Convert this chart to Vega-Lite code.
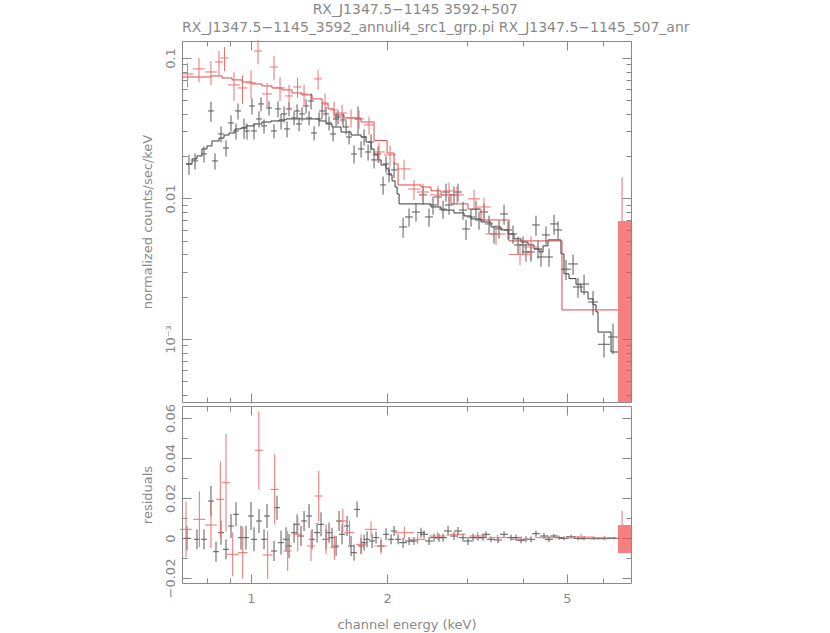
{
  "$schema": "https://vega.github.io/schema/vega-lite/v6.json",
  "padding": {"left": 140, "top": 2, "right": 5, "bottom": 5},
  "background": "white",
  "title": {"text": "RX_J1347.5−1145 3592+507", "anchor": "middle", "fontSize": 14, "fontWeight": "normal", "color": "#888", "font": "DejaVu Sans", "offset": 4},
  "datasets": {
    "blackModel": [
      {"x":0.718,"y":0.01762},{"x":0.7406,"y":0.01912},{"x":0.7594,"y":0.02008},{"x":0.779,"y":0.02252},{"x":0.7991,"y":0.02365},{"x":0.8196,"y":0.02567},{"x":0.8495,"y":0.02694},{"x":0.8715,"y":0.02829},{"x":0.894,"y":0.02925},{"x":0.9217,"y":0.03126},{"x":0.9503,"y":0.03177},{"x":0.9748,"y":0.03283},{"x":1.0155,"y":0.03393},{"x":1.0576,"y":0.03503},{"x":1.1073,"y":0.03563},{"x":1.1535,"y":0.03623},{"x":1.1953,"y":0.03683},{"x":1.4143,"y":0.03563},{"x":1.4655,"y":0.03393},{"x":1.5111,"y":0.03228},{"x":1.5818,"y":0.02973},{"x":1.6645,"y":0.02829},{"x":1.7518,"y":0.0274},{"x":1.7969,"y":0.02524},{"x":1.8433,"y":0.02252},{"x":1.8717,"y":0.02041},{"x":1.9101,"y":0.01881},{"x":1.9395,"y":0.01733},{"x":1.9897,"y":0.01623},{"x":2.0202,"y":0.01471},{"x":2.0513,"y":0.01334},{"x":2.083,"y":0.01207},{"x":2.1045,"y":0.01077},{"x":2.126,"y":0.00915},{"x":2.5016,"y":0.0087},{"x":2.6327,"y":0.00827},{"x":2.8126,"y":0.00789},{"x":2.9598,"y":0.00751},{"x":3.0668,"y":0.00715},{"x":3.2272,"y":0.0068},{"x":3.3963,"y":0.00627},{"x":3.5735,"y":0.00597},{"x":3.7036,"y":0.00559},{"x":3.8182,"y":0.00516},{"x":3.9562,"y":0.0049},{"x":4.1004,"y":0.00467},{"x":4.2276,"y":0.00437},{"x":4.3368,"y":0.00416},{"x":4.4263,"y":0.0046},{"x":4.5403,"y":0.00507},{"x":4.8503,"y":0.00403},{"x":4.9248,"y":0.00291},{"x":5.0531,"y":0.00269},{"x":5.236,"y":0.00245},{"x":5.3716,"y":0.00216},{"x":5.5667,"y":0.00193},{"x":5.7105,"y":0.00175},{"x":5.7982,"y":0.00156},{"x":5.8573,"y":0.00112},{"x":6.2588,"y":0.000808},{"x":6.4848,"y":0.000808}
    ],
    "redModel": [
      {"x":0.7036,"y":0.07324},{"x":0.8155,"y":0.07451},{"x":0.8627,"y":0.07209},{"x":0.9077,"y":0.0698},{"x":0.9552,"y":0.06749},{"x":1.0051,"y":0.06536},{"x":1.0576,"y":0.06323},{"x":1.1129,"y":0.06119},{"x":1.1712,"y":0.05923},{"x":1.2326,"y":0.05638},{"x":1.2969,"y":0.05458},{"x":1.3649,"y":0.05112},{"x":1.436,"y":0.04709},{"x":1.4806,"y":0.04339},{"x":1.5266,"y":0.03934},{"x":1.6063,"y":0.03743},{"x":1.7518,"y":0.03503},{"x":1.8717,"y":0.02588},{"x":2.0,"y":0.02107},{"x":2.0725,"y":0.01762},{"x":2.1152,"y":0.01248},{"x":2.3773,"y":0.01207},{"x":2.5016,"y":0.01133},{"x":2.6327,"y":0.0106},{"x":2.7701,"y":0.00915},{"x":3.0206,"y":0.0084},{"x":3.2272,"y":0.00703},{"x":3.7224,"y":0.00499},{"x":4.8746,"y":0.00161},{"x":6.4848,"y":0.00161}
    ],
    "black": [
      {"x":0.729,"xe":0.0112,"y":0.0176,"ye":0.0029},{"x":0.752,"xe":0.0115,"y":0.0185,"ye":0.00243},{"x":0.787,"xe":0.012,"y":0.02075,"ye":0.00272},{"x":0.8155,"xe":0.0125,"y":0.04198,"ye":0.00688},{"x":0.8324,"xe":0.0127,"y":0.0185,"ye":0.00243},{"x":0.8582,"xe":0.0131,"y":0.0288,"ye":0.00378},{"x":0.8804,"xe":0.0135,"y":0.02289,"ye":0.003},{"x":0.9031,"xe":0.0138,"y":0.03448,"ye":0.00452},{"x":0.9264,"xe":0.0142,"y":0.03024,"ye":0.00396},{"x":0.9359,"xe":0.0143,"y":0.04198,"ye":0.0055},{"x":0.965,"xe":0.0148,"y":0.03177,"ye":0.00521},{"x":0.9797,"xe":0.015,"y":0.03024,"ye":0.00396},{"x":1.005,"xe":0.0154,"y":0.04556,"ye":0.00597},{"x":1.0155,"xe":0.0155,"y":0.03024,"ye":0.00396},{"x":1.0416,"xe":0.0159,"y":0.03683,"ye":0.00483},{"x":1.0522,"xe":0.0161,"y":0.04709,"ye":0.0054},{"x":1.0685,"xe":0.0163,"y":0.03283,"ye":0.00377},{"x":1.0961,"xe":0.0168,"y":0.04409,"ye":0.00506},{"x":1.1243,"xe":0.0172,"y":0.03024,"ye":0.00347},{"x":1.1475,"xe":0.0176,"y":0.04339,"ye":0.00569},{"x":1.1653,"xe":0.0178,"y":0.03563,"ye":0.00467},{"x":1.1833,"xe":0.0181,"y":0.03997,"ye":0.00524},{"x":1.2015,"xe":0.0184,"y":0.03126,"ye":0.0041},{"x":1.2139,"xe":0.0186,"y":0.04339,"ye":0.00498},{"x":1.2452,"xe":0.0191,"y":0.03743,"ye":0.00429},{"x":1.2644,"xe":0.0193,"y":0.04198,"ye":0.00482},{"x":1.2773,"xe":0.0195,"y":0.03393,"ye":0.00389},{"x":1.2969,"xe":0.0198,"y":0.03997,"ye":0.00458},{"x":1.3236,"xe":0.0203,"y":0.04556,"ye":0.00523},{"x":1.344,"xe":0.0206,"y":0.03743,"ye":0.00429},{"x":1.3578,"xe":0.0208,"y":0.04945,"ye":0.00648},{"x":1.3789,"xe":0.0211,"y":0.02926,"ye":0.00336},{"x":1.4143,"xe":0.0216,"y":0.03683,"ye":0.00422},{"x":1.436,"xe":0.022,"y":0.04198,"ye":0.00482},{"x":1.4655,"xe":0.0224,"y":0.03997,"ye":0.00458},{"x":1.488,"xe":0.0228,"y":0.03448,"ye":0.00396},{"x":1.5189,"xe":0.0232,"y":0.0288,"ye":0.0033},{"x":1.5423,"xe":0.0236,"y":0.03683,"ye":0.00422},{"x":1.558,"xe":0.0238,"y":0.03803,"ye":0.00436},{"x":1.5982,"xe":0.0245,"y":0.03623,"ye":0.00416},{"x":1.6228,"xe":0.0248,"y":0.03228,"ye":0.0037},{"x":1.6478,"xe":0.0252,"y":0.0274,"ye":0.00314},{"x":1.6903,"xe":0.0259,"y":0.02075,"ye":0.00306},{"x":1.725,"xe":0.0264,"y":0.03683,"ye":0.00845},{"x":1.7518,"xe":0.0268,"y":0.02253,"ye":0.00295},{"x":1.7789,"xe":0.0272,"y":0.0274,"ye":0.00359},{"x":1.8155,"xe":0.0278,"y":0.02143,"ye":0.00281},{"x":1.8433,"xe":0.0282,"y":0.02524,"ye":0.00331},{"x":1.8717,"xe":0.0286,"y":0.01881,"ye":0.00247},{"x":1.9101,"xe":0.0292,"y":0.02075,"ye":0.00272},{"x":1.9596,"xe":0.03,"y":0.01248,"ye":0.00184},{"x":1.9897,"xe":0.0304,"y":0.01762,"ye":0.00231},{"x":2.0202,"xe":0.0309,"y":0.01495,"ye":0.00196},{"x":2.0725,"xe":0.0317,"y":0.01597,"ye":0.00209},{"x":2.1698,"xe":0.0443,"y":0.00627,"ye":0.00103},{"x":2.2368,"xe":0.0456,"y":0.007385,"ye":0.00109},{"x":2.3174,"xe":0.0473,"y":0.008015,"ye":0.00118},{"x":2.4019,"xe":0.049,"y":0.0106,"ye":0.00156},{"x":2.4765,"xe":0.0505,"y":0.007385,"ye":0.00109},{"x":2.5274,"xe":0.0516,"y":0.008997,"ye":0.00133},{"x":2.5927,"xe":0.0529,"y":0.01025,"ye":0.00151},{"x":2.6597,"xe":0.0543,"y":0.0084,"ye":0.00124},{"x":2.7003,"xe":0.0551,"y":0.01112,"ye":0.00164},{"x":2.7422,"xe":0.0559,"y":0.009,"ye":0.00133},{"x":2.8126,"xe":0.0574,"y":0.0106,"ye":0.00156},{"x":2.8704,"xe":0.0586,"y":0.01112,"ye":0.00164},{"x":2.9448,"xe":0.0601,"y":0.00827,"ye":0.00122},{"x":2.99,"xe":0.061,"y":0.00607,"ye":0.000995},{"x":3.0668,"xe":0.0626,"y":0.007385,"ye":0.00109},{"x":3.1462,"xe":0.0642,"y":0.0084,"ye":0.00124},{"x":3.1948,"xe":0.0652,"y":0.00703,"ye":0.00104},{"x":3.2773,"xe":0.0669,"y":0.008015,"ye":0.00118},{"x":3.3621,"xe":0.0686,"y":0.00659,"ye":0.00097},{"x":3.4486,"xe":0.0704,"y":0.00559,"ye":0.000825},{"x":3.5375,"xe":0.0722,"y":0.00607,"ye":0.000895},{"x":3.629,"xe":0.074,"y":0.00776,"ye":0.00127},{"x":3.7036,"xe":0.0756,"y":0.00597,"ye":0.00088},{"x":3.7987,"xe":0.0775,"y":0.00559,"ye":0.000825},{"x":3.8969,"xe":0.0795,"y":0.00467,"ye":0.000689},{"x":3.997,"xe":0.0815,"y":0.00467,"ye":0.000689},{"x":4.0585,"xe":0.0828,"y":0.004161,"ye":0.000614},{"x":4.1635,"xe":0.0849,"y":0.004161,"ye":0.000614},{"x":4.2704,"xe":0.0871,"y":0.00648,"ye":0.00106},{"x":4.3146,"xe":0.088,"y":0.00437,"ye":0.000645},{"x":4.3809,"xe":0.0894,"y":0.003834,"ye":0.000566},{"x":4.4943,"xe":0.0917,"y":0.0055,"ye":0.000811},{"x":4.5634,"xe":0.0931,"y":0.003834,"ye":0.000566},{"x":4.6812,"xe":0.0955,"y":0.00659,"ye":0.00108},{"x":4.7789,"xe":0.0975,"y":0.00597,"ye":0.00088},{"x":4.9758,"xe":0.1269,"y":0.00314,"ye":0.000515},{"x":5.1574,"xe":0.1315,"y":0.00342,"ye":0.00056},{"x":5.2902,"xe":0.1349,"y":0.002345,"ye":0.000384},{"x":5.4551,"xe":0.1391,"y":0.00246,"ye":0.000403},{"x":5.7105,"xe":0.1456,"y":0.001833,"ye":0.000361},{"x":6.0392,"xe":0.1854,"y":0.000917,"ye":0.00018},{"x":6.3227,"xe":0.1612,"y":0.001033,"ye":0.000254}
    ],
    "red": [
      {"x":0.7236,"xe":0.0222,"y":0.077,"ye":0.01515},{"x":0.7672,"xe":0.0236,"y":0.0836,"ye":0.01644},{"x":0.8155,"xe":0.025,"y":0.07951,"ye":0.01564},{"x":0.8495,"xe":0.0173,"y":0.09365,"ye":0.01842},{"x":0.8737,"xe":0.0178,"y":0.1,"ye":0.01967},{"x":0.917,"xe":0.0282,"y":0.0643,"ye":0.01476},{"x":0.9576,"xe":0.0244,"y":0.06119,"ye":0.01404},{"x":1.0,"xe":0.0255,"y":0.06643,"ye":0.01525},{"x":1.0363,"xe":0.0211,"y":0.1122,"ye":0.0221},{"x":1.085,"xe":0.0277,"y":0.05548,"ye":0.01091},{"x":1.1243,"xe":0.0229,"y":0.08627,"ye":0.01697},{"x":1.1594,"xe":0.0296,"y":0.06119,"ye":0.01204},{"x":1.2139,"xe":0.0248,"y":0.05368,"ye":0.01056},{"x":1.2676,"xe":0.0259,"y":0.06217,"ye":0.01019},{"x":1.3102,"xe":0.0267,"y":0.05548,"ye":0.00909},{"x":1.4072,"xe":0.0287,"y":0.07094,"ye":0.01163},{"x":1.4581,"xe":0.0298,"y":0.04786,"ye":0.00784},{"x":1.5266,"xe":0.0311,"y":0.04268,"ye":0.0063},{"x":1.59,"xe":0.0405,"y":0.04062,"ye":0.00599},{"x":1.6645,"xe":0.0424,"y":0.03743,"ye":0.00552},{"x":1.7341,"xe":0.0442,"y":0.03683,"ye":0.00543},{"x":1.8246,"xe":0.0465,"y":0.03338,"ye":0.00492},{"x":1.9197,"xe":0.0589,"y":0.02143,"ye":0.00351},{"x":2.0305,"xe":0.0623,"y":0.02041,"ye":0.00335},{"x":2.1807,"xe":0.0781,"y":0.01623,"ye":0.00266},{"x":2.294,"xe":0.0704,"y":0.01167,"ye":0.00191},{"x":2.4019,"xe":0.0737,"y":0.01112,"ye":0.00164},{"x":2.5927,"xe":0.1061,"y":0.0106,"ye":0.00156},{"x":2.7422,"xe":0.0842,"y":0.01131,"ye":0.00167},{"x":2.8557,"xe":0.1023,"y":0.0106,"ye":0.00156},{"x":3.1144,"xe":0.0956,"y":0.00994,"ye":0.00163},{"x":3.2773,"xe":0.1174,"y":0.0087,"ye":0.00143},{"x":3.4834,"xe":0.1783,"y":0.00559,"ye":0.000916},{"x":3.9364,"xe":0.2216,"y":0.004,"ye":0.000656},{"x":4.1635,"xe":0.1705,"y":0.004517,"ye":0.000888}
    ],
    "redLast": [{"x":6.4848,"x2":6.9289,"ylo":0.0001,"yhi":0.0069,"xmid":6.62,"ytop":0.0142}],
    "blackRes": [
      {"x":0.7218,"xe":0.011,"r":-0.00015,"re":0.006},{"x":0.7594,"xe":0.0116,"r":-0.00065,"re":0.005},{"x":0.787,"xe":0.012,"r":-0.00065,"re":0.005},{"x":0.8155,"xe":0.0125,"r":0.0185,"re":0.0075},{"x":0.8366,"xe":0.0128,"r":-0.00685,"re":0.005},{"x":0.8582,"xe":0.0131,"r":0.00265,"re":0.006},{"x":0.8804,"xe":0.0135,"r":-0.00565,"re":0.005},{"x":0.9031,"xe":0.0138,"r":0.006,"re":0.006},{"x":0.9264,"xe":0.0142,"r":0.01185,"re":0.006},{"x":0.9503,"xe":0.0145,"r":0.00015,"re":0.006},{"x":0.9748,"xe":0.0149,"r":0.00015,"re":0.006},{"x":1.0,"xe":0.0153,"r":0.011,"re":0.007},{"x":1.0155,"xe":0.0155,"r":-0.00065,"re":0.006},{"x":1.0416,"xe":0.0159,"r":0.0085,"re":0.006},{"x":1.0685,"xe":0.0163,"r":-0.00065,"re":0.005},{"x":1.085,"xe":0.0166,"r":0.011,"re":0.006},{"x":1.1243,"xe":0.0172,"r":-0.0065,"re":0.005},{"x":1.1415,"xe":0.0175,"r":0.01515,"re":0.006},{"x":1.1653,"xe":0.0178,"r":-0.00235,"re":0.006},{"x":1.1953,"xe":0.0183,"r":-0.00065,"re":0.006},{"x":1.2139,"xe":0.0186,"r":-0.004,"re":0.006},{"x":1.2452,"xe":0.0191,"r":0.00265,"re":0.005},{"x":1.2644,"xe":0.0193,"r":0.00685,"re":0.005},{"x":1.2902,"xe":0.0197,"r":0.001,"re":0.005},{"x":1.3102,"xe":0.02,"r":0.0085,"re":0.005},{"x":1.344,"xe":0.0206,"r":0.011,"re":0.006},{"x":1.3649,"xe":0.0209,"r":-0.00065,"re":0.005},{"x":1.4,"xe":0.0214,"r":0.00265,"re":0.005},{"x":1.4287,"xe":0.0219,"r":0.00685,"re":0.006},{"x":1.4655,"xe":0.0224,"r":-0.00065,"re":0.005},{"x":1.488,"xe":0.0228,"r":0.00265,"re":0.005},{"x":1.5111,"xe":0.0231,"r":0.00015,"re":0.005},{"x":1.5423,"xe":0.0236,"r":-0.004,"re":0.005},{"x":1.566,"xe":0.024,"r":0.0085,"re":0.005},{"x":1.59,"xe":0.0243,"r":0.00185,"re":0.005},{"x":1.631,"xe":0.025,"r":0.006,"re":0.005},{"x":1.6645,"xe":0.0255,"r":-0.004,"re":0.005},{"x":1.6903,"xe":0.0259,"r":-0.00735,"re":0.004},{"x":1.7164,"xe":0.0263,"r":0.01435,"re":0.004},{"x":1.7518,"xe":0.0268,"r":-0.004,"re":0.004},{"x":1.7789,"xe":0.0272,"r":-0.00235,"re":0.004},{"x":1.806,"xe":0.0276,"r":-0.00065,"re":0.004},{"x":1.8528,"xe":0.0283,"r":-0.0015,"re":0.0035},{"x":1.8906,"xe":0.0289,"r":0.00015,"re":0.003},{"x":1.9395,"xe":0.0297,"r":-0.004,"re":0.003},{"x":1.9897,"xe":0.0304,"r":0.00185,"re":0.003},{"x":2.0408,"xe":0.0312,"r":-0.00065,"re":0.0025},{"x":2.0725,"xe":0.0317,"r":0.0035,"re":0.0025},{"x":2.1152,"xe":0.0324,"r":-0.00065,"re":0.0025},{"x":2.1698,"xe":0.0443,"r":-0.00235,"re":0.0025},{"x":2.2368,"xe":0.0456,"r":-0.0015,"re":0.002},{"x":2.294,"xe":0.0468,"r":-0.0015,"re":0.002},{"x":2.3773,"xe":0.0485,"r":0.00265,"re":0.0025},{"x":2.4142,"xe":0.0493,"r":0.00185,"re":0.002},{"x":2.4765,"xe":0.0505,"r":-0.0015,"re":0.002},{"x":2.5405,"xe":0.0518,"r":0.00015,"re":0.002},{"x":2.606,"xe":0.0532,"r":0.00015,"re":0.002},{"x":2.6597,"xe":0.0543,"r":0.00015,"re":0.002},{"x":2.7282,"xe":0.0557,"r":0.0035,"re":0.0025},{"x":2.8126,"xe":0.0574,"r":0.001,"re":0.002},{"x":2.8704,"xe":0.0586,"r":0.0035,"re":0.002},{"x":2.9448,"xe":0.0601,"r":0.00015,"re":0.002},{"x":3.0206,"xe":0.0616,"r":-0.0015,"re":0.002},{"x":3.0984,"xe":0.0632,"r":0.00015,"re":0.002},{"x":3.1783,"xe":0.0648,"r":0.00015,"re":0.0015},{"x":3.2606,"xe":0.0665,"r":0.00015,"re":0.0015},{"x":3.3107,"xe":0.0675,"r":0.00185,"re":0.0015},{"x":3.3963,"xe":0.0693,"r":-0.00065,"re":0.0015},{"x":3.5196,"xe":0.0718,"r":-0.001,"re":0.0015},{"x":3.629,"xe":0.074,"r":0.00185,"re":0.0015},{"x":3.76,"xe":0.0767,"r":0.00015,"re":0.0015},{"x":3.8573,"xe":0.0787,"r":0.00015,"re":0.0015},{"x":3.9562,"xe":0.0807,"r":-0.00115,"re":0.0015},{"x":4.0585,"xe":0.0828,"r":-0.00065,"re":0.0015},{"x":4.1635,"xe":0.0849,"r":-0.00065,"re":0.0015},{"x":4.2704,"xe":0.0871,"r":0.00215,"re":0.0015},{"x":4.4486,"xe":0.0908,"r":0.001,"re":0.0015},{"x":4.5634,"xe":0.0931,"r":-0.00065,"re":0.0015},{"x":4.6812,"xe":0.0955,"r":0.001,"re":0.001},{"x":4.8015,"xe":0.098,"r":0.00015,"re":0.001},{"x":4.9248,"xe":0.1256,"r":-0.00015,"re":0.001},{"x":5.105,"xe":0.1302,"r":0.00065,"re":0.001},{"x":5.2902,"xe":0.1349,"r":-0.00015,"re":0.001},{"x":5.4551,"xe":0.1391,"r":-0.00015,"re":0.001},{"x":5.7397,"xe":0.1464,"r":-0.00035,"re":0.0005},{"x":6.0392,"xe":0.1854,"r":-0.00035,"re":0.0005},{"x":6.3544,"xe":0.162,"r":-0.00015,"re":0.0005}
    ],
    "redRes": [
      {"x":0.718,"xe":0.022,"r":0.00435,"re":0.014},{"x":0.7686,"xe":0.0236,"r":0.00935,"re":0.014},{"x":0.8155,"xe":0.025,"r":0.0065,"re":0.0115},{"x":0.8552,"xe":0.0175,"r":0.01935,"re":0.019},{"x":0.8804,"xe":0.018,"r":0.02765,"re":0.0245},{"x":0.911,"xe":0.028,"r":-0.00815,"re":0.011},{"x":0.9587,"xe":0.0245,"r":-0.00735,"re":0.013},{"x":1.0408,"xe":0.0213,"r":0.04385,"re":0.0195},{"x":1.0887,"xe":0.0278,"r":-0.0085,"re":0.012},{"x":1.1282,"xe":0.023,"r":0.02435,"re":0.0175},{"x":1.2055,"xe":0.0247,"r":-0.0065,"re":0.01},{"x":1.2689,"xe":0.026,"r":0.00185,"re":0.0085},{"x":1.3578,"xe":0.0278,"r":-0.004,"re":0.0075},{"x":1.412,"xe":0.0288,"r":0.021,"re":0.0125},{"x":1.4655,"xe":0.03,"r":-0.00065,"re":0.0075},{"x":1.529,"xe":0.0312,"r":-0.00485,"re":0.006},{"x":1.5965,"xe":0.0407,"r":0.0085,"re":0.006},{"x":1.652,"xe":0.0421,"r":0.00265,"re":0.006},{"x":1.7518,"xe":0.0447,"r":-0.00315,"re":0.005},{"x":1.8433,"xe":0.0566,"r":0.00435,"re":0.004},{"x":1.9395,"xe":0.0595,"r":-0.004,"re":0.004},{"x":2.184,"xe":0.1118,"r":0.00265,"re":0.003},{"x":2.3375,"xe":0.0956,"r":-0.00065,"re":0.0025},{"x":2.5876,"xe":0.1058,"r":0.001,"re":0.002},{"x":2.8661,"xe":0.1172,"r":0.00185,"re":0.002},{"x":3.1734,"xe":0.1298,"r":0.001,"re":0.002},{"x":3.5135,"xe":0.1619,"r":0.00015,"re":0.0015},{"x":3.9562,"xe":0.2026,"r":-0.00065,"re":0.0015},{"x":4.5334,"xe":0.2783,"r":0.00015,"re":0.0015},{"x":5.3716,"xe":0.385,"r":0.0005,"re":0.0015},{"x":6.0485,"xe":0.3714,"r":0.00015,"re":0.001}
    ],
    "redLastRes": [{"x":6.4848,"x2":6.9289,"ylo":-0.0075,"yhi":0.0065,"xmid":6.62,"ytop":0.0135}]
  },
  "spacing": 0,
  "resolve": {"scale": {"x": "independent"}},
  "vconcat": [
    {
      "width": 449,
      "height": 361,
      "title": {"text": "RX_J1347.5−1145_3592_annuli4_src1_grp.pi RX_J1347.5−1145_507_anr", "anchor": "start", "frame": "group", "fontSize": 14, "fontWeight": "normal", "color": "#888", "font": "DejaVu Sans", "offset": 4},
      "layer": [
        {
          "data": {"name": "blackModel"},
          "mark": {"type": "line", "interpolate": "step-after", "color": "#3a3a3a", "strokeWidth": 1, "clip": true},
          "encoding": {
            "x": {"field": "x", "type": "quantitative", "scale": {"type": "log", "domain": [0.7036, 6.9289], "nice": false},
                  "axis": {"orient": "bottom", "values": [0.8, 0.9, 1, 2, 3, 4, 5, 6], "labels": false, "title": null,
                           "tickSize": {"condition": {"test": "datum.value == 1 || datum.value == 2 || datum.value == 5", "value": -9}, "value": -5}}},
            "y": {"field": "y", "type": "quantitative", "scale": {"type": "log", "domain": [0.000356, 0.1321], "nice": false},
                  "axis": {"orient": "left", "values": [0.0004, 0.0005, 0.0006, 0.0007, 0.0008, 0.0009, 0.001, 0.002, 0.003, 0.004, 0.005, 0.006, 0.007, 0.008, 0.009, 0.01, 0.02, 0.03, 0.04, 0.05, 0.06, 0.07, 0.08, 0.09, 0.1],
                           "labelExpr": "datum.value === 0.1 ? '0.1' : datum.value === 0.01 ? '0.01' : datum.value === 0.001 ? '10⁻³' : ''",
                           "labelAngle": -90, "labelAlign": "center", "labelBaseline": "bottom", "labelPadding": 14,
                           "title": "normalized counts/sec/keV", "titlePadding": 6,
                           "tickSize": {"condition": {"test": "datum.value === 0.1 || datum.value === 0.01 || datum.value === 0.001", "value": -9}, "value": -5}}}
          }
        },
        {
          "data": {"name": "redModel"},
          "mark": {"type": "line", "interpolate": "step-after", "color": "#e04848", "strokeWidth": 1, "clip": true},
          "encoding": {
            "x": {"field": "x", "type": "quantitative", "scale": {"type": "log", "domain": [0.7036, 6.9289], "nice": false},
                  "axis": {"orient": "top", "values": [0.8, 0.9, 1, 2, 3, 4, 5, 6], "labels": false, "title": null,
                           "tickSize": {"condition": {"test": "datum.value == 1 || datum.value == 2 || datum.value == 5", "value": -9}, "value": -5}}},
            "y": {"field": "y", "type": "quantitative", "scale": {"type": "log", "domain": [0.000356, 0.1321], "nice": false},
                  "axis": {"orient": "right", "values": [0.0004, 0.0005, 0.0006, 0.0007, 0.0008, 0.0009, 0.001, 0.002, 0.003, 0.004, 0.005, 0.006, 0.007, 0.008, 0.009, 0.01, 0.02, 0.03, 0.04, 0.05, 0.06, 0.07, 0.08, 0.09, 0.1],
                           "labels": false, "title": null,
                           "tickSize": {"condition": {"test": "datum.value === 0.1 || datum.value === 0.01 || datum.value === 0.001", "value": -9}, "value": -5}}}
          }
        },
        {
          "data": {"name": "black"},
          "mark": {"type": "errorbar", "color": "#5a5a5a", "thickness": 1},
          "encoding": {
            "x": {"field": "x", "type": "quantitative", "scale": {"type": "log", "domain": [0.7036, 6.9289], "nice": false}, "axis": null},
            "xError": {"field": "xe"},
            "y": {"field": "y", "type": "quantitative", "scale": {"type": "log", "domain": [0.000356, 0.1321], "nice": false}, "axis": null}
          }
        },
        {
          "data": {"name": "black"},
          "mark": {"type": "errorbar", "color": "#5a5a5a", "thickness": 1},
          "encoding": {
            "x": {"field": "x", "type": "quantitative", "scale": {"type": "log", "domain": [0.7036, 6.9289], "nice": false}, "axis": null},
            "y": {"field": "y", "type": "quantitative", "scale": {"type": "log", "domain": [0.000356, 0.1321], "nice": false}, "axis": null},
            "yError": {"field": "ye"}
          }
        },
        {
          "data": {"name": "red"},
          "mark": {"type": "errorbar", "color": "#ea7070", "thickness": 1},
          "encoding": {
            "x": {"field": "x", "type": "quantitative", "scale": {"type": "log", "domain": [0.7036, 6.9289], "nice": false}, "axis": null},
            "xError": {"field": "xe"},
            "y": {"field": "y", "type": "quantitative", "scale": {"type": "log", "domain": [0.000356, 0.1321], "nice": false}, "axis": null}
          }
        },
        {
          "data": {"name": "red"},
          "mark": {"type": "errorbar", "color": "#ea7070", "thickness": 1},
          "encoding": {
            "x": {"field": "x", "type": "quantitative", "scale": {"type": "log", "domain": [0.7036, 6.9289], "nice": false}, "axis": null},
            "y": {"field": "y", "type": "quantitative", "scale": {"type": "log", "domain": [0.000356, 0.1321], "nice": false}, "axis": null},
            "yError": {"field": "ye"}
          }
        },
        {
          "data": {"name": "redLast"},
          "mark": {"type": "rect", "color": "#f04a4a", "opacity": 0.7, "clip": true},
          "encoding": {
            "x": {"field": "x", "type": "quantitative", "scale": {"type": "log", "domain": [0.7036, 6.9289], "nice": false}, "axis": null},
            "x2": {"field": "x2"},
            "y": {"field": "ylo", "type": "quantitative", "scale": {"type": "log", "domain": [0.000356, 0.1321], "nice": false}, "axis": null},
            "y2": {"field": "yhi"}
          }
        },
        {
          "data": {"name": "redLast"},
          "mark": {"type": "rule", "color": "#ea7070", "strokeWidth": 1, "clip": true},
          "encoding": {
            "x": {"field": "xmid", "type": "quantitative", "scale": {"type": "log", "domain": [0.7036, 6.9289], "nice": false}, "axis": null},
            "y": {"field": "yhi", "type": "quantitative", "scale": {"type": "log", "domain": [0.000356, 0.1321], "nice": false}, "axis": null},
            "y2": {"field": "ytop"}
          }
        }
      ],
      "resolve": {"axis": {"x": "independent", "y": "independent"}}
    },
    {
      "width": 449,
      "height": 177,
      "layer": [
        {
          "data": {"name": "blackRes"},
          "mark": {"type": "point", "opacity": 0},
          "encoding": {
            "x": {"field": "x", "type": "quantitative", "scale": {"type": "log", "domain": [0.7036, 6.9289], "nice": false},
                  "axis": {"orient": "bottom", "values": [0.8, 0.9, 1, 2, 3, 4, 5, 6],
                           "labelExpr": "indexof([1,2,5], datum.value) >= 0 ? format(datum.value, 'd') : ''",
                           "labelPadding": 18, "title": "channel energy (keV)", "titlePadding": 9,
                           "tickSize": {"condition": {"test": "datum.value == 1 || datum.value == 2 || datum.value == 5", "value": -9}, "value": -5}}},
            "y": {"field": "r", "type": "quantitative", "scale": {"type": "linear", "domain": [-0.0225, 0.066], "nice": false, "zero": false},
                  "axis": {"orient": "left", "values": [-0.02, -0.01, 0, 0.01, 0.02, 0.03, 0.04, 0.05, 0.06],
                           "labelExpr": "indexof([-0.02,0,0.02,0.04,0.06], datum.value) >= 0 ? (datum.value == 0 ? '0' : format(datum.value, '.2f')) : ''",
                           "labelAngle": -90, "labelAlign": "center", "labelBaseline": "bottom", "labelPadding": 14,
                           "title": "residuals", "titlePadding": 6,
                           "tickSize": {"condition": {"test": "indexof([-0.02,0,0.02,0.04,0.06], datum.value) >= 0", "value": -9}, "value": -5}}}
          }
        },
        {
          "data": {"name": "redRes"},
          "mark": {"type": "point", "opacity": 0},
          "encoding": {
            "x": {"field": "x", "type": "quantitative", "scale": {"type": "log", "domain": [0.7036, 6.9289], "nice": false},
                  "axis": {"orient": "top", "values": [0.8, 0.9, 1, 2, 3, 4, 5, 6], "labels": false, "title": null,
                           "tickSize": {"condition": {"test": "datum.value == 1 || datum.value == 2 || datum.value == 5", "value": -9}, "value": -5}}},
            "y": {"field": "r", "type": "quantitative", "scale": {"type": "linear", "domain": [-0.0225, 0.066], "nice": false, "zero": false},
                  "axis": {"orient": "right", "values": [-0.02, -0.01, 0, 0.01, 0.02, 0.03, 0.04, 0.05, 0.06], "labels": false, "title": null,
                           "tickSize": {"condition": {"test": "indexof([-0.02,0,0.02,0.04,0.06], datum.value) >= 0", "value": -9}, "value": -5}}}
          }
        },
        {
          "data": {"name": "blackRes"},
          "mark": {"type": "errorbar", "color": "#5a5a5a", "thickness": 1},
          "encoding": {
            "x": {"field": "x", "type": "quantitative", "scale": {"type": "log", "domain": [0.7036, 6.9289], "nice": false}, "axis": null},
            "xError": {"field": "xe"},
            "y": {"field": "r", "type": "quantitative", "scale": {"type": "linear", "domain": [-0.0225, 0.066], "nice": false, "zero": false}, "axis": null}
          }
        },
        {
          "data": {"name": "blackRes"},
          "mark": {"type": "errorbar", "color": "#5a5a5a", "thickness": 1},
          "encoding": {
            "x": {"field": "x", "type": "quantitative", "scale": {"type": "log", "domain": [0.7036, 6.9289], "nice": false}, "axis": null},
            "y": {"field": "r", "type": "quantitative", "scale": {"type": "linear", "domain": [-0.0225, 0.066], "nice": false, "zero": false}, "axis": null},
            "yError": {"field": "re"}
          }
        },
        {
          "data": {"name": "redRes"},
          "mark": {"type": "errorbar", "color": "#ea7070", "thickness": 1},
          "encoding": {
            "x": {"field": "x", "type": "quantitative", "scale": {"type": "log", "domain": [0.7036, 6.9289], "nice": false}, "axis": null},
            "xError": {"field": "xe"},
            "y": {"field": "r", "type": "quantitative", "scale": {"type": "linear", "domain": [-0.0225, 0.066], "nice": false, "zero": false}, "axis": null}
          }
        },
        {
          "data": {"name": "redRes"},
          "mark": {"type": "errorbar", "color": "#ea7070", "thickness": 1},
          "encoding": {
            "x": {"field": "x", "type": "quantitative", "scale": {"type": "log", "domain": [0.7036, 6.9289], "nice": false}, "axis": null},
            "y": {"field": "r", "type": "quantitative", "scale": {"type": "linear", "domain": [-0.0225, 0.066], "nice": false, "zero": false}, "axis": null},
            "yError": {"field": "re"}
          }
        },
        {
          "data": {"name": "redLastRes"},
          "mark": {"type": "rect", "color": "#f04a4a", "opacity": 0.7, "clip": true},
          "encoding": {
            "x": {"field": "x", "type": "quantitative", "scale": {"type": "log", "domain": [0.7036, 6.9289], "nice": false}, "axis": null},
            "x2": {"field": "x2"},
            "y": {"field": "ylo", "type": "quantitative", "scale": {"type": "linear", "domain": [-0.0225, 0.066], "nice": false, "zero": false}, "axis": null},
            "y2": {"field": "yhi"}
          }
        },
        {
          "data": {"name": "redLastRes"},
          "mark": {"type": "rule", "color": "#ea7070", "strokeWidth": 1, "clip": true},
          "encoding": {
            "x": {"field": "xmid", "type": "quantitative", "scale": {"type": "log", "domain": [0.7036, 6.9289], "nice": false}, "axis": null},
            "y": {"field": "yhi", "type": "quantitative", "scale": {"type": "linear", "domain": [-0.0225, 0.066], "nice": false, "zero": false}, "axis": null},
            "y2": {"field": "ytop"}
          }
        }
      ],
      "resolve": {"axis": {"x": "independent", "y": "independent"}}
    }
  ],
  "config": {
    "view": {"stroke": "#888", "strokeWidth": 1},
    "axis": {"domain": false, "grid": false, "tickColor": "#888", "tickWidth": 1, "labelColor": "#888", "titleColor": "#888",
             "labelFont": "DejaVu Sans", "titleFont": "DejaVu Sans", "labelFontSize": 13, "titleFontSize": 13, "titleFontWeight": "normal",
             "labelOverlap": false, "labelFlush": false, "labelBound": false}
  }
}
